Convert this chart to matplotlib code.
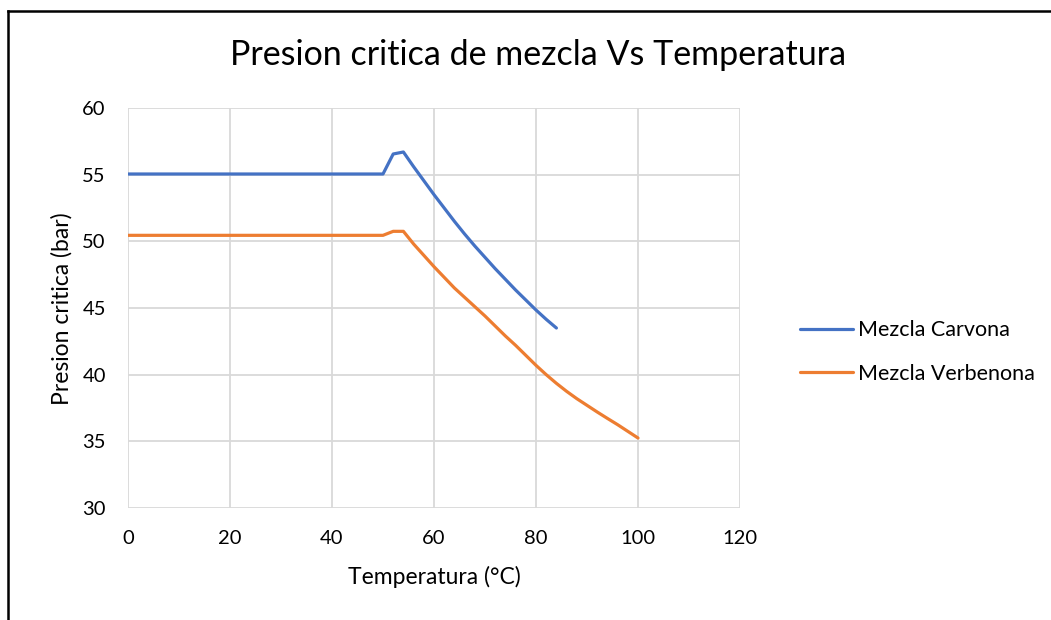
import numpy as np
import matplotlib.pyplot as plt
from matplotlib.lines import Line2D

plt.rcParams['font.family'] = ['Lato', 'DejaVu Sans']

# Temperatura (°C) y presion critica (bar) de cada mezcla
temp_carvona = [0, 2, 4, 6, 8, 10, 12, 14, 16, 18, 20, 22, 24, 26, 28, 30, 32, 34, 36, 38, 40,
                42, 44, 46, 48, 50, 52, 54, 56, 58, 60, 62, 64, 66, 68, 70, 72, 74, 76, 78, 80, 82, 84]
pc_carvona = [55.05] * 26 + [56.55, 56.7, 55.6, 54.55, 53.5, 52.5, 51.5, 50.55, 49.65, 48.8,
                             47.95, 47.15, 46.35, 45.6, 44.85, 44.15, 43.5]

temp_verbenona = [0, 2, 4, 6, 8, 10, 12, 14, 16, 18, 20, 22, 24, 26, 28, 30, 32, 34, 36, 38, 40,
                  42, 44, 46, 48, 50, 52, 54, 56, 58, 60, 62, 64, 66, 68, 70, 72, 74, 76, 78, 80,
                  82, 84, 86, 88, 90, 92, 94, 96, 98, 100]
pc_verbenona = [50.45] * 26 + [50.75, 50.75, 49.8, 48.95, 48.1, 47.3, 46.5, 45.8, 45.1, 44.4,
                               43.65, 42.9, 42.2, 41.45, 40.7, 40.0, 39.35, 38.75, 38.2, 37.7,
                               37.2, 36.72, 36.25, 35.75, 35.25]

fig = plt.figure(figsize=(10.51, 6.2), dpi=100)
ax = fig.add_axes([128/1051, 1 - 508/620, 612/1051, 400/620])

l1, = ax.plot(temp_carvona, pc_carvona, color='#4472C4', lw=2.3, solid_capstyle='round')
l2, = ax.plot(temp_verbenona, pc_verbenona, color='#ED7D31', lw=2.3, solid_capstyle='round')

ax.set_xlim(0, 120)
ax.set_ylim(30, 60)
ax.set_xticks(np.arange(0, 121, 20))
ax.set_yticks(np.arange(30, 61, 5))
ax.grid(True, color='#d9d9d9', lw=1.3)
ax.set_axisbelow(True)
for s in ax.spines.values():
    s.set_visible(False)
ax.tick_params(length=0, labelsize=14.5, colors='#000000')
ax.tick_params(axis='x', pad=16)
ax.tick_params(axis='y', pad=16)

# titulos
fig.text(434/1051, 1 - 577/620, 'Temperatura (°C)', ha='center', va='center', fontsize=16.5)
fig.text(62/1051, 1 - 309/620, 'Presion critica (bar)', ha='center', va='center',
         rotation=90, fontsize=16.5)
fig.text(538/1051, 1 - 55/620, 'Presion critica de mezcla Vs Temperatura',
         ha='center', va='center', fontsize=24.5)

fig.legend([l1, l2], ['Mezcla Carvona', 'Mezcla Verbenona'], loc='center left',
           bbox_to_anchor=(800/1051, 1 - 352/620), frameon=False, fontsize=15.5,
           borderpad=0, borderaxespad=0,
           handlelength=2.45, handletextpad=0.25, labelspacing=1.1)

# marco negro arriba y a la izquierda
fig.add_artist(Line2D([8/1051, 8/1051], [0, 1 - 11/620], color='black', lw=1.8))
fig.add_artist(Line2D([8/1051, 1], [1 - 11/620, 1 - 11/620], color='black', lw=1.8))

fig.savefig('out.png', dpi=100)
